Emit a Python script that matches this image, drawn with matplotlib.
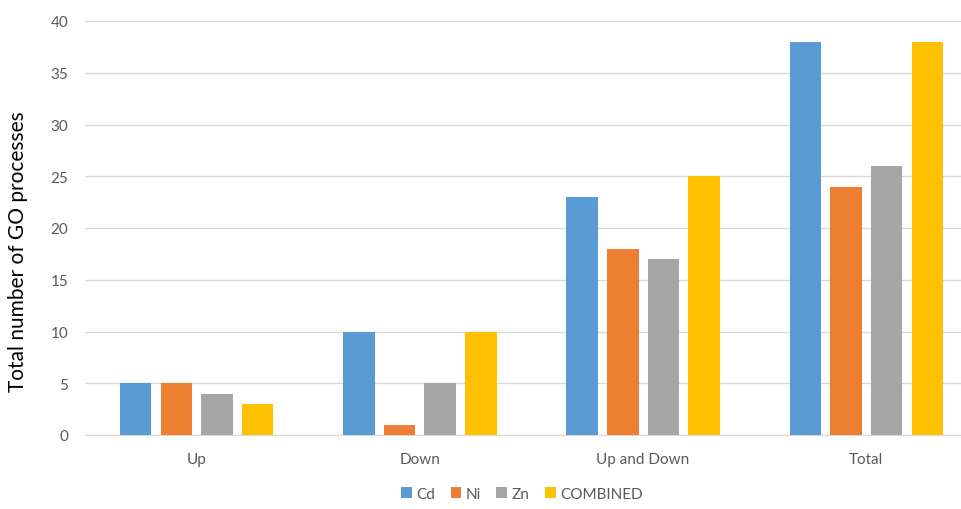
import matplotlib
matplotlib.use("Agg")
import matplotlib.pyplot as plt
import numpy as np

categories = ["Up", "Down", "Up and Down", "Total"]
series_names = ["Cd", "Ni", "Zn", "COMBINED"]
cd = [5, 10, 23, 38]
ni = [5, 1, 18, 24]
zn = [4, 5, 17, 26]
combined = [3, 10, 25, 38]
yticks = [0, 5, 10, 15, 20, 25, 30, 35, 40]
colors = ["#5B9BD5", "#ED7D31", "#A5A5A5", "#FFC000"]

plt.rcParams["font.family"] = ["Lato", "DejaVu Sans"]

W, H = 962, 510
fig = plt.figure(figsize=(W / 100, H / 100), dpi=100)
left, right = 85 / W, 978 / W
bottom, top = (H - 436) / H, (H - 22) / H
ax = fig.add_axes([left, bottom, right - left, top - bottom])

x = np.arange(len(categories))
bw = 0.141
step = 0.182
for i, (name, vals) in enumerate(zip(series_names, [cd, ni, zn, combined])):
    ax.bar(x + (i - 1.5) * step, vals, width=bw, color=colors[i], label=name, zorder=3)

ax.set_xlim(-0.5, len(categories) - 0.5)
ax.set_ylim(0, 40)
ax.set_yticks(yticks)
ax.set_xticks(x)
ax.set_xticklabels(categories)
ax.yaxis.grid(True, color="#D9D9D9", linewidth=1.0, zorder=0)
for s in ["top", "right", "left"]:
    ax.spines[s].set_visible(False)
ax.spines["bottom"].set_color("#D9D9D9")
ax.tick_params(axis="both", length=0, colors="#595959", labelsize=11)
ax.tick_params(axis="x", pad=12)
ax.tick_params(axis="y", pad=12)
ax.set_ylabel("Total number of GO processes", fontsize=15, color="#000000")
ax.yaxis.set_label_coords(-0.064, 0.445)

leg = fig.legend(loc="center", bbox_to_anchor=(522 / W, (H - 495) / H), ncol=4,
                 frameon=False, fontsize=11, handlelength=0.7, handleheight=0.7,
                 handletextpad=0.3, columnspacing=1.0)
for t in leg.get_texts():
    t.set_color("#595959")

fig.savefig("out.png", dpi=100)
